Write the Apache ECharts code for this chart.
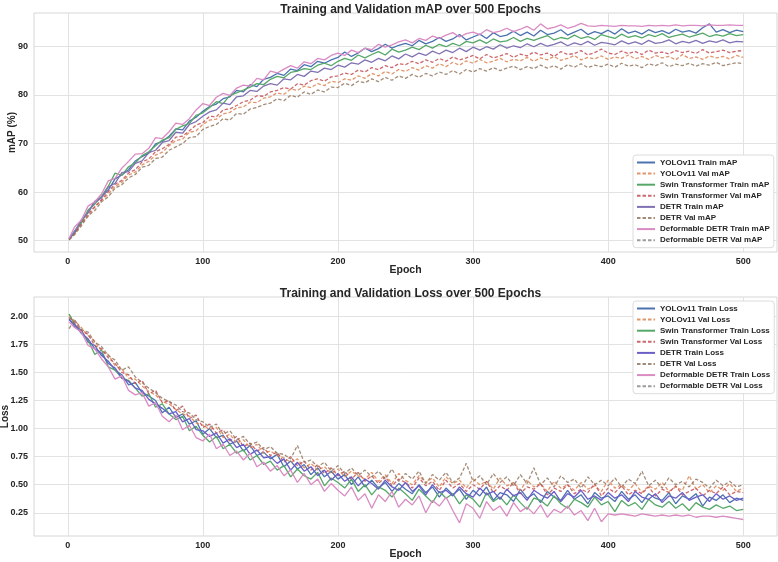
<!DOCTYPE html>
<html>
<head>
<meta charset="utf-8">
<script src="https://cdn.jsdelivr.net/npm/echarts@6/dist/echarts.min.js"></script>
<style>
html, body { margin: 0; padding: 0; background: #fff; }
#chart { width: 778px; height: 562px; }
</style>
</head>
<body>
<div id="chart"></div>
<script>
const epochs = [1,5,10,15,20,25,30,35,40,45,50,55,60,65,70,75,80,85,90,95,100,105,110,115,120,125,130,135,140,145,150,155,160,165,170,175,180,185,190,195,200,205,210,215,220,225,230,235,240,245,250,255,260,265,270,275,280,285,290,295,300,305,310,315,320,325,330,335,340,345,350,355,360,365,370,375,380,385,390,395,400,405,410,415,420,425,430,435,440,445,450,455,460,465,470,475,480,485,490,495,500]

const xTicks = [0, 100, 200, 300, 400, 500]
const mapTicks = [50, 60, 70, 80, 90]
const lossTicks = [0.25, 0.5, 0.75, 1.0, 1.25, 1.5, 1.75, 2.0]

// ---- mAP (%) ----
const yoloTrainMap = [50.4,51.5,54.0,55.9,58.1,59.0,60.4,62.7,63.5,64.6,66.4,67.3,68.0,69.9,70.4,71.5,73.0,72.8,74.6,75.4,76.6,77.6,78.1,79.2,79.6,80.9,80.6,82.1,81.7,83.2,83.6,84.4,84.0,85.3,85.0,86.2,85.8,86.9,86.5,87.2,87.7,88.8,87.9,88.6,89.6,88.9,89.5,90.4,89.6,90.2,90.6,90.1,91.2,90.5,91.0,91.8,91.0,91.5,92.4,91.3,91.9,92.5,91.6,92.8,92.0,92.3,93.1,92.2,92.9,92.1,93.3,92.4,92.7,93.4,92.3,92.9,93.5,92.4,93.0,92.6,93.3,92.5,93.6,92.7,93.1,92.5,93.4,92.8,93.2,92.6,93.5,92.9,93.2,92.7,93.8,94.6,92.9,93.4,92.8,93.3,93.0]
const yoloValMap = [50.4,51.2,53.5,55.0,56.9,58.3,59.6,61.2,62.0,63.5,64.1,65.6,66.3,67.6,68.2,69.5,70.6,70.9,72.3,72.6,73.9,74.8,75.0,76.1,76.4,77.3,77.5,78.5,78.4,79.3,79.6,80.4,80.1,81.2,80.9,81.8,81.5,82.3,81.9,82.8,82.5,83.3,83.0,83.9,83.4,84.4,83.9,84.8,84.3,85.2,84.8,85.6,85.1,86.0,85.5,86.4,85.8,86.7,86.1,87.0,86.5,87.3,86.6,86.9,87.5,86.8,87.3,87.0,87.7,86.9,87.6,87.2,87.9,87.1,87.5,88.1,87.2,87.7,87.4,88.0,87.3,87.8,87.5,88.2,87.4,87.9,87.3,88.1,87.6,87.9,87.2,88.3,87.5,87.8,87.3,88.0,87.6,87.9,87.4,88.1,87.7]
const swinTrainMap = [50.3,52.0,53.6,56.3,57.5,59.1,61.2,63.9,63.4,65.2,66.0,67.5,68.3,69.5,70.7,71.2,72.9,73.6,74.1,75.8,76.3,77.4,78.6,78.2,79.9,80.4,81.0,81.6,82.3,82.1,83.2,83.8,83.5,84.6,84.9,85.4,85.2,86.1,86.5,86.0,86.9,87.5,87.1,88.2,87.6,88.3,88.9,88.2,89.4,88.8,89.2,89.8,89.3,90.2,89.6,90.4,89.9,90.6,90.1,91.0,90.7,91.3,90.6,91.5,90.9,91.1,91.8,91.0,91.6,91.2,91.7,92.2,91.3,91.8,91.5,92.3,91.6,92.0,91.4,92.4,92.0,91.6,92.5,91.8,92.2,91.7,92.4,92.0,92.6,91.8,92.2,92.5,91.9,92.3,92.7,92.0,92.4,92.1,92.6,92.2,92.4]
const swinValMap = [50.2,51.6,53.4,55.5,57.0,58.4,60.1,61.6,62.4,63.9,64.6,66.2,66.8,68.3,68.9,69.8,71.3,71.5,72.6,73.8,74.3,75.6,75.5,76.9,77.1,77.8,78.6,78.9,79.8,79.7,80.6,80.9,81.5,81.2,82.3,82.0,82.9,83.3,82.8,83.7,83.9,84.5,84.2,85.1,84.7,85.6,85.2,86.0,85.6,86.4,86.2,86.9,86.4,87.2,86.7,87.5,86.9,87.8,87.2,87.6,88.1,87.4,88.3,87.6,88.0,88.5,87.7,88.4,88.0,88.8,88.2,88.6,87.9,88.9,88.3,88.5,89.1,88.2,88.7,89.4,88.6,88.3,89.0,88.5,88.9,88.3,89.2,88.6,88.8,88.4,89.1,88.7,89.0,88.5,89.3,88.6,88.9,89.2,88.7,89.0,89.1]
const detrTrainMap = [50.3,51.8,54.3,55.7,57.9,58.8,61.0,61.8,64.0,64.2,65.9,66.4,68.1,68.6,70.2,70.6,72.3,72.1,73.9,74.5,75.6,76.5,76.9,78.3,78.0,79.6,79.8,80.9,80.7,81.8,82.3,82.0,83.3,83.1,84.2,83.8,84.9,84.6,85.5,85.2,86.1,85.7,86.6,86.3,87.2,86.7,87.5,87.0,88.0,87.4,88.4,87.8,88.6,88.1,89.0,88.4,89.2,88.7,89.6,88.9,89.8,89.2,89.9,89.4,90.3,89.6,90.1,89.7,90.5,89.9,90.6,90.0,90.4,90.9,90.1,90.7,90.3,91.0,90.2,90.8,90.6,90.3,91.1,90.5,90.9,90.4,91.2,90.6,90.8,91.3,90.5,91.0,90.7,91.2,90.6,91.1,90.8,91.3,90.7,91.0,90.9]
const detrValMap = [50.1,51.3,53.0,55.1,56.2,58.0,59.0,60.8,61.5,62.9,63.6,65.1,65.5,66.9,67.2,68.6,69.3,70.0,71.2,71.4,72.9,73.5,73.9,75.1,74.8,76.2,76.0,77.1,77.4,78.0,78.3,79.2,78.8,79.9,79.5,80.6,80.1,81.0,80.6,81.6,81.5,82.4,81.9,82.8,82.5,83.3,82.7,83.6,83.0,83.9,83.4,84.2,83.6,84.4,83.9,84.7,84.2,85.0,84.3,85.2,84.7,85.4,84.9,85.6,85.0,85.5,85.9,85.2,85.8,85.4,86.1,85.5,86.0,85.3,86.2,85.7,86.4,85.6,86.1,85.8,86.3,85.7,86.5,85.9,86.2,85.6,86.4,86.0,86.6,85.8,86.3,86.0,86.5,85.9,86.4,86.1,86.7,86.0,86.3,86.6,86.4]
const deformTrainMap = [50.5,52.8,54.2,57.1,58.0,59.6,62.3,62.8,64.9,66.3,67.8,67.9,69.0,71.2,71.0,72.4,74.2,73.9,75.1,76.9,78.2,77.8,79.5,80.3,79.9,81.4,82.0,81.8,83.4,83.1,84.9,84.5,85.3,86.0,85.5,86.8,86.4,87.5,87.2,88.1,88.6,88.1,89.2,88.7,89.6,89.3,90.4,89.8,90.3,90.9,91.3,90.7,91.6,91.2,92.1,91.6,92.3,92.8,91.9,92.6,92.9,92.4,93.4,92.8,93.1,93.7,93.0,93.5,94.1,93.3,94.6,93.6,93.9,94.4,93.7,94.1,94.7,94.2,94.1,94.3,94.2,94.1,94.3,94.2,94.2,94.1,94.3,94.2,94.3,94.2,94.4,94.2,94.3,94.3,94.2,94.4,94.3,94.3,94.4,94.3,94.3]
// the Deformable DETR validation curve does not show up on the plot, only in the legend
const deformValMap = []

// ---- Loss ----
const yoloTrainLoss = [1.98,1.91,1.88,1.77,1.74,1.65,1.60,1.52,1.48,1.39,1.41,1.32,1.29,1.25,1.14,1.19,1.10,1.13,1.04,1.07,0.95,1.00,0.92,0.94,0.86,0.89,0.80,0.85,0.76,0.79,0.73,0.77,0.66,0.71,0.64,0.68,0.59,0.65,0.57,0.62,0.55,0.59,0.50,0.57,0.48,0.54,0.47,0.52,0.44,0.51,0.46,0.42,0.50,0.43,0.48,0.39,0.47,0.41,0.46,0.37,0.45,0.40,0.48,0.36,0.43,0.41,0.35,0.46,0.38,0.42,0.34,0.44,0.39,0.36,0.45,0.37,0.41,0.33,0.43,0.38,0.40,0.35,0.44,0.37,0.41,0.34,0.42,0.38,0.36,0.43,0.33,0.40,0.37,0.42,0.31,0.39,0.36,0.41,0.34,0.38,0.36]
const yoloValLoss = [2.01,1.96,1.90,1.83,1.78,1.69,1.66,1.56,1.53,1.45,1.44,1.38,1.33,1.30,1.24,1.22,1.17,1.13,1.11,1.05,1.03,0.99,1.01,0.92,0.95,0.87,0.90,0.83,0.86,0.78,0.80,0.76,0.74,0.70,0.73,0.65,0.69,0.63,0.66,0.60,0.64,0.57,0.62,0.58,0.55,0.61,0.53,0.59,0.51,0.60,0.54,0.50,0.58,0.52,0.56,0.48,0.57,0.51,0.54,0.47,0.55,0.50,0.53,0.46,0.56,0.49,0.52,0.45,0.54,0.48,0.51,0.44,0.53,0.47,0.50,0.45,0.52,0.46,0.49,0.44,0.54,0.47,0.50,0.45,0.51,0.43,0.49,0.46,0.52,0.44,0.48,0.45,0.58,0.46,0.50,0.43,0.49,0.45,0.51,0.44,0.47]
const swinTrainLoss = [2.02,1.93,1.85,1.79,1.66,1.70,1.55,1.52,1.45,1.43,1.36,1.29,1.31,1.19,1.22,1.13,1.08,1.11,0.98,1.02,0.94,0.88,0.93,0.82,0.86,0.78,0.81,0.72,0.76,0.68,0.71,0.63,0.67,0.57,0.64,0.58,0.55,0.61,0.49,0.56,0.52,0.47,0.55,0.44,0.50,0.41,0.48,0.45,0.39,0.47,0.42,0.36,0.46,0.40,0.34,0.44,0.38,0.42,0.33,0.41,0.37,0.30,0.43,0.35,0.39,0.32,0.41,0.34,0.28,0.38,0.36,0.31,0.40,0.33,0.29,0.37,0.34,0.30,0.39,0.32,0.35,0.26,0.36,0.31,0.34,0.28,0.37,0.32,0.30,0.35,0.29,0.33,0.27,0.34,0.30,0.28,0.32,0.29,0.31,0.27,0.28]
const swinValLoss = [1.99,1.95,1.87,1.84,1.74,1.71,1.63,1.58,1.50,1.48,1.40,1.43,1.31,1.34,1.23,1.25,1.16,1.20,1.09,1.12,1.01,1.04,0.96,0.99,0.89,0.93,0.84,0.87,0.80,0.83,0.76,0.79,0.70,0.75,0.67,0.71,0.63,0.68,0.60,0.65,0.58,0.62,0.55,0.61,0.53,0.58,0.51,0.57,0.49,0.55,0.52,0.47,0.56,0.49,0.53,0.45,0.54,0.47,0.51,0.44,0.50,0.46,0.53,0.43,0.49,0.45,0.52,0.42,0.48,0.46,0.51,0.41,0.47,0.44,0.50,0.42,0.46,0.43,0.51,0.40,0.47,0.43,0.49,0.41,0.45,0.42,0.48,0.40,0.46,0.43,0.49,0.41,0.44,0.47,0.40,0.45,0.42,0.48,0.41,0.44,0.43]
const detrTrainLoss = [1.97,1.93,1.85,1.80,1.71,1.67,1.58,1.54,1.45,1.42,1.36,1.34,1.26,1.22,1.18,1.13,1.15,1.06,1.09,0.99,0.98,0.93,0.96,0.87,0.91,0.83,0.86,0.77,0.81,0.74,0.75,0.69,0.73,0.63,0.70,0.62,0.66,0.58,0.63,0.54,0.60,0.53,0.57,0.49,0.55,0.51,0.46,0.54,0.48,0.45,0.52,0.44,0.49,0.41,0.50,0.43,0.45,0.40,0.48,0.42,0.39,0.47,0.41,0.44,0.37,0.46,0.40,0.43,0.36,0.45,0.41,0.38,0.44,0.35,0.42,0.39,0.45,0.37,0.40,0.36,0.43,0.38,0.41,0.35,0.44,0.39,0.37,0.42,0.34,0.40,0.38,0.43,0.36,0.39,0.41,0.35,0.42,0.37,0.40,0.36,0.38]
const detrValLoss = [1.89,1.97,1.88,1.86,1.77,1.73,1.65,1.61,1.52,1.55,1.46,1.41,1.36,1.32,1.27,1.24,1.21,1.15,1.14,1.08,1.06,1.01,1.04,0.95,0.98,0.90,0.93,0.86,0.88,0.81,0.84,0.78,0.77,0.73,0.85,0.70,0.72,0.66,0.70,0.62,0.67,0.60,0.65,0.58,0.63,0.57,0.62,0.55,0.64,0.53,0.60,0.55,0.62,0.51,0.59,0.54,0.61,0.52,0.56,0.69,0.53,0.58,0.50,0.60,0.52,0.57,0.49,0.59,0.51,0.65,0.50,0.56,0.48,0.58,0.52,0.55,0.47,0.57,0.50,0.54,0.49,0.56,0.48,0.55,0.51,0.62,0.49,0.54,0.47,0.56,0.50,0.53,0.48,0.55,0.52,0.47,0.54,0.49,0.53,0.48,0.50]
const deformTrainLoss = [1.95,1.90,1.86,1.74,1.71,1.62,1.55,1.44,1.47,1.34,1.30,1.32,1.20,1.23,1.11,1.06,1.12,0.99,1.03,0.92,0.89,0.95,0.82,0.86,0.76,0.80,0.72,0.78,0.66,0.70,0.62,0.67,0.58,0.63,0.52,0.60,0.50,0.55,0.44,0.51,0.45,0.40,0.48,0.36,0.42,0.29,0.41,0.35,0.44,0.30,0.37,0.32,0.40,0.25,0.36,0.31,0.39,0.27,0.16,0.33,0.29,0.20,0.35,0.27,0.31,0.22,0.34,0.26,0.30,0.24,0.32,0.21,0.28,0.25,0.31,0.23,0.27,0.18,0.29,0.17,0.24,0.23,0.24,0.23,0.22,0.24,0.23,0.22,0.23,0.22,0.23,0.22,0.23,0.21,0.22,0.22,0.21,0.22,0.21,0.20,0.19]
const deformValLoss = []

const colors = {
  yoloTrain: '#4c72b0', yoloVal: '#dd8452',
  swinTrain: '#55a868', swinVal: '#c44e52',
  detrTrain: '#8172b3', detrTrainLoss: '#6a5fc8', detrVal: '#937860',
  deformTrain: '#da8bc3', deformVal: '#8c8c8c'
}

const font = "'Liberation Sans', Arial, sans-serif"
const textColor = '#262626'

function line(name, values, color, dashed, idx) {
  return {
    name: name,
    type: 'line',
    xAxisIndex: idx,
    yAxisIndex: idx,
    data: values.map((v, i) => [epochs[i], v]),
    symbol: 'none',
    showSymbol: false,
    silent: true,
    itemStyle: { color: color },
    lineStyle: {
      color: color,
      width: 1.3,
      type: dashed ? [3.5, 2] : 'solid',
      opacity: dashed ? 0.85 : 1
    },
    emphasis: { disabled: true }
  }
}

const mapSeries = [
  line('YOLOv11 Train mAP', yoloTrainMap, colors.yoloTrain, false, 0),
  line('YOLOv11 Val mAP', yoloValMap, colors.yoloVal, true, 0),
  line('Swin Transformer Train mAP', swinTrainMap, colors.swinTrain, false, 0),
  line('Swin Transformer Val mAP', swinValMap, colors.swinVal, true, 0),
  line('DETR Train mAP', detrTrainMap, colors.detrTrain, false, 0),
  line('DETR Val mAP', detrValMap, colors.detrVal, true, 0),
  line('Deformable DETR Train mAP', deformTrainMap, colors.deformTrain, false, 0),
  line('Deformable DETR Val mAP', deformValMap, colors.deformVal, true, 0)
]
const lossSeries = [
  line('YOLOv11 Train Loss', yoloTrainLoss, colors.yoloTrain, false, 1),
  line('YOLOv11 Val Loss', yoloValLoss, colors.yoloVal, true, 1),
  line('Swin Transformer Train Loss', swinTrainLoss, colors.swinTrain, false, 1),
  line('Swin Transformer Val Loss', swinValLoss, colors.swinVal, true, 1),
  line('DETR Train Loss', detrTrainLoss, colors.detrTrainLoss, false, 1),
  line('DETR Val Loss', detrValLoss, colors.detrVal, true, 1),
  line('Deformable DETR Train Loss', deformTrainLoss, colors.deformTrain, false, 1),
  line('Deformable DETR Val Loss', deformValLoss, colors.deformVal, true, 1)
]

function xAxis(idx) {
  return {
    type: 'value',
    gridIndex: idx,
    min: -25,
    max: 525,
    name: 'Epoch',
    nameLocation: 'middle',
    nameGap: 13,
    nameMoveOverlap: false,
    nameTextStyle: { fontFamily: font, fontWeight: 'bold', fontSize: 10.5, color: textColor },
    axisLine: { show: false },
    axisTick: { show: false, customValues: xTicks },
    axisLabel: { customValues: xTicks, fontFamily: font, fontWeight: 'bold', fontSize: 9, color: textColor, margin: 5 },
    splitLine: { show: true, lineStyle: { color: '#e2e2e2', width: 1 } }
  }
}

function yAxis(idx, name, min, max, ticks, fmt, gap) {
  return {
    type: 'value',
    gridIndex: idx,
    min: min,
    max: max,
    name: name,
    nameLocation: 'middle',
    nameRotate: 90,
    nameGap: gap,
    nameMoveOverlap: false,
    nameTextStyle: { fontFamily: font, fontWeight: 'bold', fontSize: 10, color: textColor },
    axisLine: { show: false },
    axisTick: { show: false, customValues: ticks },
    axisLabel: { customValues: ticks, formatter: fmt, fontFamily: font, fontWeight: 'bold', fontSize: 9, color: textColor, margin: 6 },
    splitLine: { show: true, lineStyle: { color: '#e2e2e2', width: 1 } }
  }
}

function legend(series, top) {
  return {
    data: series.map(s => s.name),
    orient: 'vertical',
    left: 633,
    top: top,
    itemWidth: 18,
    itemHeight: 8,
    itemGap: 0.1,
    padding: [2, 4, 2, 3],
    backgroundColor: '#fff',
    borderColor: '#dcdcdc',
    borderWidth: 1,
    borderRadius: 3,
    selectedMode: false,
    itemStyle: { opacity: 0 },
    textStyle: { fontFamily: font, fontWeight: 'bold', fontSize: 8, color: textColor, lineHeight: 11 }
  }
}

const chart = echarts.init(document.getElementById('chart'), null, { renderer: 'canvas' })
chart.setOption({
  animation: false,
  backgroundColor: '#fff',
  title: [
    { text: 'Training and Validation mAP over 500 Epochs', left: 405.5, top: -1, textAlign: 'center',
      textStyle: { fontFamily: font, fontWeight: 'bold', fontSize: 12, color: textColor } },
    { text: 'Training and Validation Loss over 500 Epochs', left: 405.5, top: 283, textAlign: 'center',
      textStyle: { fontFamily: font, fontWeight: 'bold', fontSize: 12, color: textColor } }
  ],
  grid: [
    { left: 34, right: 1, top: 13, height: 239, containLabel: false, outerBoundsMode: 'none',
      show: true, borderColor: '#d6d6d6', borderWidth: 1, backgroundColor: '#fff' },
    { left: 34, right: 1, top: 297, height: 239, containLabel: false, outerBoundsMode: 'none',
      show: true, borderColor: '#d6d6d6', borderWidth: 1, backgroundColor: '#fff' }
  ],
  xAxis: [xAxis(0), xAxis(1)],
  yAxis: [
    yAxis(0, 'mAP (%)', 47.66, 96.84, mapTicks, v => String(v), 16.5),
    yAxis(1, 'Loss', 0.043, 2.172, lossTicks, v => v.toFixed(2), 23.5)
  ],
  legend: [legend(mapSeries, 155), legend(lossSeries, 301)],
  series: mapSeries.concat(lossSeries)
})
</script>
</body>
</html>
